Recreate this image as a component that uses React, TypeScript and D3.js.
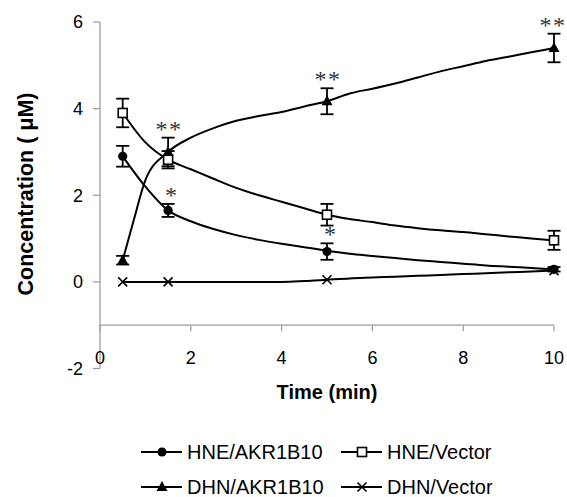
import React from "react";
import * as d3 from "d3";

const W = 567;
const H = 497;

// Measured points (time in min)
const markerTimes = [0.5, 1.5, 5, 10];
const hneAkrMean = [2.9, 1.65, 0.7, 0.29];
const hneAkrErr = [0.24, 0.15, 0.19, 0.05];
const hneVecMean = [3.9, 2.82, 1.55, 0.96];
const hneVecErr = [0.33, 0.2, 0.25, 0.22];
const dhnAkrMean = [0.5, 3.0, 4.17, 5.4];
const dhnAkrErr = [0.1, 0.33, 0.3, 0.33];
const dhnVecMean = [0, 0, 0.05, 0.26];

// Fitted curves
const curveTimes = [0.5, 1, 1.5, 2, 2.5, 3, 3.5, 4, 4.5, 5, 5.5, 6, 6.5, 7, 7.5, 8, 8.5, 9, 9.5, 10];
const hneAkrCurve = [2.9, 2.2, 1.65, 1.4, 1.22, 1.08, 0.97, 0.88, 0.8, 0.72, 0.65, 0.6, 0.55, 0.5, 0.46, 0.42, 0.38, 0.35, 0.32, 0.29];
const hneVecCurve = [3.9, 3.22, 2.82, 2.6, 2.38, 2.17, 2.0, 1.85, 1.7, 1.55, 1.45, 1.38, 1.3, 1.24, 1.19, 1.15, 1.1, 1.05, 1.0, 0.96];
const dhnAkrCurveTimes = [0.5, 0.75, 1, 1.5, 2, 2.5, 3, 3.5, 4, 4.5, 5, 5.5, 6, 6.5, 7, 7.5, 8, 8.5, 9, 9.5, 10];
const dhnAkrCurve = [0.5, 1.45, 2.35, 3.0, 3.33, 3.55, 3.72, 3.83, 3.92, 4.05, 4.17, 4.35, 4.46, 4.58, 4.72, 4.86, 4.98, 5.1, 5.2, 5.3, 5.4];
const dhnVecCurve = [0, 0, 0, 0, 0, 0, 0, 0, 0.02, 0.05, 0.08, 0.1, 0.12, 0.14, 0.16, 0.18, 0.2, 0.22, 0.24, 0.26];

// Significance marks
const sigTimes = [1.5, 1.5, 5, 5, 10];
const sigValues = [3.33, 1.8, 0.89, 4.47, 5.73];
const sigLabels = ["**", "*", "*", "**", "**"];

const xTicks = [0, 2, 4, 6, 8, 10];
const yTicks = [-2, 0, 2, 4, 6];

const legendNames = ["HNE/AKR1B10", "HNE/Vector", "DHN/AKR1B10", "DHN/Vector"];
const legendMarkers = ["circle", "square", "triangle", "cross"];

const x = d3.scaleLinear().domain([0, 10]).range([100, 554]);
const y = d3.scaleLinear().domain([-2, 6]).range([368.5, 22]);

const line = d3
  .line<[number, number]>()
  .x((d) => x(d[0]))
  .y((d) => y(d[1]))
  .curve(d3.curveMonotoneX);

function Marker({ kind, cx, cy }: { kind: string; cx: number; cy: number }) {
  if (kind === "circle") return <circle cx={cx} cy={cy} r={4.6} fill="#000" />;
  if (kind === "square")
    return <rect x={cx - 4.5} y={cy - 4.5} width={9} height={9} fill="#fff" stroke="#000" strokeWidth={1.6} />;
  if (kind === "triangle")
    return <path d={`M${cx},${cy - 6} L${cx + 5.5},${cy + 4} L${cx - 5.5},${cy + 4} Z`} fill="#000" />;
  return (
    <path
      d={`M${cx - 4.5},${cy - 4.5} L${cx + 4.5},${cy + 4.5} M${cx - 4.5},${cy + 4.5} L${cx + 4.5},${cy - 4.5}`}
      stroke="#000"
      strokeWidth={1.6}
    />
  );
}

function ErrBar({ t, m, e }: { t: number; m: number; e: number }) {
  const px = x(t);
  const top = y(m + e);
  const bot = y(m - e);
  return (
    <g stroke="#000" strokeWidth={1.8}>
      <line x1={px} x2={px} y1={top} y2={bot} />
      <line x1={px - 6.5} x2={px + 6.5} y1={top} y2={top} />
      <line x1={px - 6.5} x2={px + 6.5} y1={bot} y2={bot} />
    </g>
  );
}

export default function App() {
  const series = [
    { times: curveTimes, curve: hneAkrCurve, mean: hneAkrMean, err: hneAkrErr, kind: "circle" },
    { times: curveTimes, curve: hneVecCurve, mean: hneVecMean, err: hneVecErr, kind: "square" },
    { times: dhnAkrCurveTimes, curve: dhnAkrCurve, mean: dhnAkrMean, err: dhnAkrErr, kind: "triangle" },
    { times: curveTimes, curve: dhnVecCurve, mean: dhnVecMean, err: null as number[] | null, kind: "cross" },
  ];
  const axisColor = "#999";
  const font = "Arial, 'Liberation Sans', sans-serif";
  return (
    <svg width={W} height={H} style={{ position: "absolute", left: 0, top: 0, background: "#fff" }} fontFamily={font}>
      {/* y axis */}
      <line x1={100} x2={100} y1={y(6)} y2={y(-2)} stroke={axisColor} strokeWidth={1.2} />
      {yTicks.map((v) => (
        <g key={v}>
          <line x1={93} x2={100} y1={y(v)} y2={y(v)} stroke={axisColor} strokeWidth={1.2} />
          <text x={83} y={y(v)} dy="0.36em" textAnchor="end" fontSize={18} fill="#000">
            {v}
          </text>
        </g>
      ))}
      {/* x axis at y=-1 */}
      <line x1={x(0)} x2={x(10)} y1={y(-1)} y2={y(-1)} stroke={axisColor} strokeWidth={1.2} />
      {xTicks.map((v) => (
        <g key={v}>
          <line x1={x(v)} x2={x(v)} y1={y(-1)} y2={y(-1) + 6} stroke={axisColor} strokeWidth={1.2} />
          <text x={x(v)} y={358} dy="0.36em" textAnchor="middle" fontSize={18} fill="#000">
            {v}
          </text>
        </g>
      ))}
      {/* axis titles */}
      <text
        transform={`translate(33,194) rotate(-90)`}
        textAnchor="middle"
        fontSize={21.5}
        fontWeight="bold"
        fill="#000"
      >
        Concentration ( μM)
      </text>
      <text x={327} y={399} textAnchor="middle" fontSize={20} fontWeight="bold" fill="#000">
        Time (min)
      </text>
      {/* lines */}
      {series.map((s, i) => (
        <path
          key={"l" + i}
          d={line(s.times.map((t, j) => [t, s.curve[j]] as [number, number])) || ""}
          fill="none"
          stroke="#000"
          strokeWidth={2}
        />
      ))}
      {/* error bars */}
      {series.map((s, i) =>
        s.err ? markerTimes.map((t, j) => <ErrBar key={"e" + i + j} t={t} m={s.mean[j]} e={s.err![j]} />) : null
      )}
      {/* markers */}
      {series.map((s, i) =>
        markerTimes.map((t, j) => <Marker key={"m" + i + j} kind={s.kind} cx={x(t)} cy={y(s.mean[j])} />)
      )}
      {/* significance */}
      {sigLabels.map((lab, i) => (
        <text
          key={"s" + i}
          x={Math.min(x(sigTimes[i]) + (lab === "*" ? 3 : 1), W - 14)}
          y={y(sigValues[i]) - 1}
          textAnchor="middle"
          fontSize={24}
          fill="#333"
          letterSpacing={lab === "**" ? 1.5 : 0}
          fontFamily="'Liberation Serif', serif"
        >
          {lab}
        </text>
      ))}
      {/* legend */}
      {legendNames.map((name, i) => {
        const col = i % 2;
        const row = Math.floor(i / 2);
        const lx = col === 0 ? 141 : 341;
        const ly = row === 0 ? 452 : 487;
        return (
          <g key={"lg" + i}>
            <line x1={lx} x2={lx + 41} y1={ly} y2={ly} stroke="#000" strokeWidth={2} />
            <Marker kind={legendMarkers[i]} cx={lx + 21} cy={ly} />
            <text x={lx + 46} y={ly} dy="0.36em" fontSize={20} fill="#000">
              {name}
            </text>
          </g>
        );
      })}
    </svg>
  );
}
